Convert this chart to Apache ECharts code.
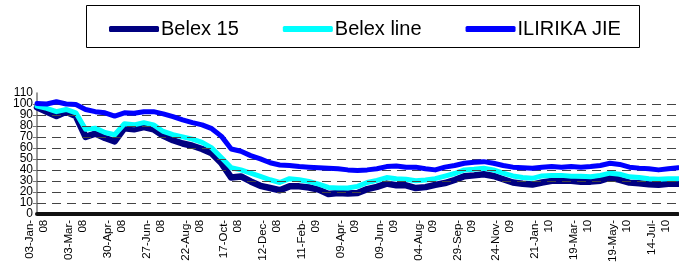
<!DOCTYPE html>
<html>
<head>
<meta charset="utf-8">
<title>Belex 15 / Belex line / ILIRIKA JIE</title>
<script src="https://cdn.jsdelivr.net/npm/echarts/dist/echarts.min.js"></script>
<style>
  html, body { margin: 0; padding: 0; background: #fff; }
  #chart { width: 679px; height: 265px; }
</style>
</head>
<body>
<div id="chart"></div>
<script>
// one point every ~10 trading days, a date label every 4th point
var tickLabels = ["03-Jan-\n08", "03-Mar-\n08", "30-Apr-\n08", "27-Jun-\n08", "22-Aug-\n08", "17-Oct-\n08",
  "12-Dec-\n08", "11-Feb-\n09", "09-Apr-\n09", "09-Jun-\n09", "04-Aug-\n09", "29-Sep-\n09",
  "24-Nov-\n09", "21-Jan-\n10", "19-Mar-\n10", "19-May-\n10", "14-Jul-\n10"];

var belex15 = [97, 93, 89, 93, 89, 70, 73, 69, 66, 78, 77, 79, 77,
  71, 67, 64, 62, 59, 55, 46, 33, 34, 29.5, 25.5, 23.5, 21.5,
  25, 25, 24, 22, 18, 19, 18.5, 19, 22.5, 24.5, 27.5, 26, 26,
  23.5, 24.3, 26.4, 28, 30.8, 34.3, 35, 36, 34.5, 31.5, 28.5, 27.3, 26.6, 28.5,
  30, 30, 30, 29.3, 29.3, 30.2, 33, 31, 28.4, 27.9, 27, 26.4, 27.3, 27.3];

var belexLine = [98, 96, 93, 95, 92, 77, 78, 74, 72, 82, 81, 83, 81,
  75, 72, 70, 68, 65, 60, 51, 42, 40, 37, 34, 31, 28.5,
  32, 31, 29.5, 27, 24, 23.5, 23.5, 25, 28.5, 30.5, 33, 32, 31.5,
  30.2, 30.8, 32, 34.3, 36.7, 40, 40.5, 41.5, 40, 37, 34.5, 33, 32.3, 34.5,
  35, 35, 34.3, 34.3, 33.7, 35, 37, 36, 33.7, 33, 32, 31.4, 32, 32];

var ilirika = [100.5, 100, 102, 100, 99.5, 95, 93, 92, 89, 92, 91.5, 93, 93,
  91, 88.5, 85.5, 83, 81, 77.5, 70.5, 59, 57, 53, 50, 46.5, 44.5,
  44, 43, 42.5, 42, 41.5, 41, 40, 39.5, 40, 41, 43, 43.5, 42.5,
  42.5, 41, 40, 42.5, 44, 46, 47, 47.5, 46, 44, 42.5, 42, 41.5, 42.5,
  43, 42.5, 43, 42.5, 43, 44, 46, 45, 42.5, 41.6, 41, 40, 41, 42];

var gridValues = [10, 20, 30, 40, 50, 60, 70, 80, 90, 100];
var yMin = 0, yMax = 110, yStep = 10;

var categories = [];
for (var i = 0; i < belex15.length; i++) {
  categories.push(i % 4 === 0 ? tickLabels[i / 4] : "p" + i);
}

var font = "Liberation Sans, Arial, sans-serif";
var yLabelStyle = { fontFamily: font, fontSize: 12, color: "#000", margin: 4 };
var myChart = echarts.init(document.getElementById("chart"));

var option = {
  animation: false,
  backgroundColor: "#fff",
  graphic: [{
    type: "rect",
    shape: { x: 86.5, y: 5.5, width: 553, height: 42 },
    style: { fill: "#fff", stroke: "#000", lineWidth: 1 },
    z: -1
  }],
  legend: {
    left: 104,
    top: 14,
    itemWidth: 50,
    itemHeight: 6,
    itemGap: 44,
    icon: "roundRect",
    textStyle: { fontFamily: font, fontSize: 20, color: "#000", padding: [0, 0, 0, -3] },
    data: ["Belex 15", "Belex line", "ILIRIKA JIE"]
  },
  grid: { left: 37, right: 1, top: 93, bottom: 46 },
  xAxis: {
    type: "category",
    boundaryGap: false,
    data: categories,
    axisLine: { lineStyle: { color: "#111", width: 4 } },
    axisTick: { show: false },
    axisLabel: {
      interval: 3,
      rotate: 90,
      margin: 6,
      hideOverlap: false,
      fontFamily: font,
      fontSize: 11.5,
      lineHeight: 14,
      color: "#000"
    }
  },
  yAxis: [
    {
      // inner labels 10..100
      type: "value",
      min: yMin,
      max: yMax,
      interval: yStep,
      axisLine: { show: true, lineStyle: { color: "#777", width: 1.5 } },
      axisTick: { show: true, length: 4, lineStyle: { color: "#777" } },
      splitLine: { show: false },
      axisLabel: Object.assign({ showMinLabel: false, showMaxLabel: false }, yLabelStyle)
    },
    {
      // end labels 0 and 110
      type: "value",
      position: "left",
      min: yMin,
      max: yMax,
      interval: yStep,
      axisLine: { show: false },
      axisTick: { show: false },
      splitLine: { show: false },
      axisLabel: Object.assign({
        showMinLabel: true,
        showMaxLabel: true,
        formatter: function (v) { return (v === yMin || v === yMax) ? String(v) : ""; }
      }, yLabelStyle)
    }
  ],
  series: [
    {
      // dashed gridlines, 10..100 only (no line at 110)
      type: "line",
      data: [],
      silent: true,
      z: 1,
      markLine: {
        silent: true,
        symbol: "none",
        label: { show: false },
        lineStyle: { type: [9, 6], color: "#444", width: 1 },
        data: gridValues.map(function (v) { return { yAxis: v }; })
      }
    },
    {
      name: "Belex 15",
      type: "line",
      data: belex15,
      showSymbol: false,
      z: 3,
      color: "#000080",
      lineStyle: { width: 6.5, color: "#000080", join: "round", cap: "round" }
    },
    {
      name: "Belex line",
      type: "line",
      data: belexLine,
      showSymbol: false,
      z: 4,
      color: "#00ffff",
      lineStyle: { width: 5, color: "#00ffff", join: "round", cap: "round" }
    },
    {
      name: "ILIRIKA JIE",
      type: "line",
      data: ilirika,
      showSymbol: false,
      z: 5,
      color: "#0000ff",
      lineStyle: { width: 5, color: "#0000ff", join: "round", cap: "round" }
    }
  ]
};

myChart.setOption(option);
</script>
</body>
</html>
